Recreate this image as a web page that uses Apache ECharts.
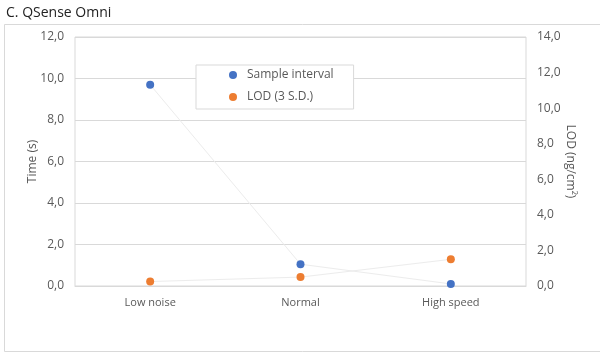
<!DOCTYPE html>
<html>
<head>
<meta charset="utf-8">
<script src="https://cdn.jsdelivr.net/npm/echarts@6/dist/echarts.min.js"></script>
<style>html,body{margin:0;padding:0;background:#fff}#c{width:600px;height:353px}</style>
</head>
<body>
<div id="c"></div>
<script>
const categories = ['Low noise', 'Normal', 'High speed'];
const sampleInterval = [9.7, 1.05, 0.1];
const lod = [0.25, 0.5, 1.5];
const leftTicks = { min: 0, max: 12, interval: 2 };
const rightTicks = { min: 0, max: 14, interval: 2 };

const FONT = '"Open Sans", sans-serif';
const TXT = '#595959';
const fmt = v => v.toFixed(1).replace('.', ',');

const chart = echarts.init(document.getElementById('c'), null, { renderer: 'canvas' });
chart.setOption({
  animation: false,
  backgroundColor: '#fff',
  textStyle: { fontFamily: FONT },
  title: {
    text: 'C. QSense Omni', left: 1, top: 1,
    textStyle: { fontFamily: FONT, fontSize: 14, fontWeight: 'normal', color: '#222' }
  },
  graphic: [{
    type: 'rect', left: 2, top: 22, shape: { width: 596, height: 327 },
    style: { fill: 'none', stroke: '#d9d9d9', lineWidth: 1 }, silent: true, z: -1
  }],
  grid: { left: 75, right: 74, top: 37, bottom: 67, show: true, borderColor: '#d9d9d9', borderWidth: 1 },
  legend: {
    orient: 'vertical', left: 196, top: 65,
    padding: [4, 20, 6, 33], itemGap: 10,
    itemWidth: 8, itemHeight: 8, icon: 'circle',
    backgroundColor: '#fff', borderColor: '#d9d9d9', borderWidth: 1,
    textStyle: { fontFamily: FONT, fontSize: 12, color: TXT, padding: [0, 0, 0, 5] },
    data: ['Sample interval', 'LOD (3 S.D.)']
  },
  xAxis: {
    type: 'category', data: categories, boundaryGap: true,
    axisTick: { show: false },
    axisLine: { lineStyle: { color: '#d9d9d9' } },
    axisLabel: { color: TXT, fontSize: 11, margin: 11, fontFamily: FONT }
  },
  yAxis: [{
    type: 'value', min: leftTicks.min, max: leftTicks.max, interval: leftTicks.interval,
    name: 'Time (s)', nameLocation: 'middle', nameGap: 36, nameRotate: 90, nameMoveOverlap: false,
    nameTextStyle: { color: TXT, fontSize: 12, fontFamily: FONT },
    axisLine: { show: false }, axisTick: { show: false },
    axisLabel: { color: TXT, fontSize: 12, margin: 11, formatter: fmt, fontFamily: FONT },
    splitLine: { lineStyle: { color: '#d9d9d9' } }
  }, {
    type: 'value', position: 'right', min: rightTicks.min, max: rightTicks.max, interval: rightTicks.interval,
    name: 'LOD (ng/cm²)', nameLocation: 'middle', nameGap: 38, nameRotate: -90, nameMoveOverlap: false,
    nameTextStyle: { color: TXT, fontSize: 12, fontFamily: FONT },
    axisLine: { show: false }, axisTick: { show: false },
    axisLabel: { color: TXT, fontSize: 12, margin: 11, formatter: fmt, fontFamily: FONT },
    splitLine: { show: false }
  }],
  series: [{
    name: 'Sample interval', type: 'line', yAxisIndex: 0, data: sampleInterval,
    symbol: 'circle', symbolSize: 8,
    itemStyle: { color: '#4472C4' },
    lineStyle: { color: '#ececec', width: 1 }
  }, {
    name: 'LOD (3 S.D.)', type: 'line', yAxisIndex: 1, data: lod,
    symbol: 'circle', symbolSize: 8,
    itemStyle: { color: '#ED7D31' },
    lineStyle: { color: '#ececec', width: 1 }
  }]
});
</script>
</body>
</html>
